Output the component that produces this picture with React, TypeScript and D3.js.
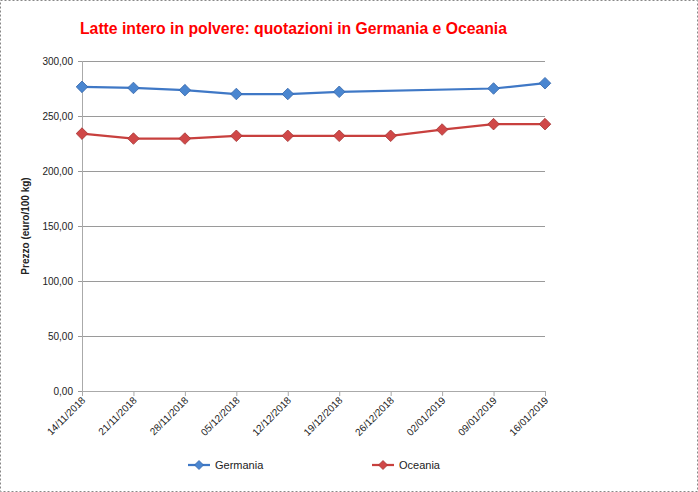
import React from "react";
import * as d3 from "d3";

const categories = [
  "14/11/2018", "21/11/2018", "28/11/2018", "05/12/2018", "12/12/2018",
  "19/12/2018", "26/12/2018", "02/01/2019", "09/01/2019", "16/01/2019",
];
const germania: (number | null)[] = [276.5, 275.5, 273.5, 270, 270, 272, null, null, 275, 279.8];
const oceania: (number | null)[] = [234, 229.5, 229.5, 232, 232, 232, 232, 237.7, 242.6, 242.6];
const yTicks = [0, 50, 100, 150, 200, 250, 300];
const title = "Latte intero in polvere: quotazioni in Germania e Oceania";
const yLabel = "Prezzo (euro/100 kg)";

const W = 698, H = 492;
const left = 82, right = 545, top = 61, bottom = 391;

const fmt = (v: number) => v.toFixed(2).replace(".", ",");

export default function App() {
  const x = d3.scalePoint<string>().domain(categories).range([left, right]);
  const y = d3.scaleLinear().domain([0, 300]).range([bottom, top]);

  const series = [
    { name: "Germania", data: germania, line: "#3F78C6", fill: "#4A86D0", stroke: "#3566AA" },
    { name: "Oceania", data: oceania, line: "#C8403E", fill: "#D04848", stroke: "#A53533" },
  ];

  const diamond = (cx: number, cy: number, r: number) =>
    `M${cx},${cy - r}L${cx + r},${cy}L${cx},${cy + r}L${cx - r},${cy}Z`;

  const legendPos = [188, 372];

  return (
    <>
      <style>{`body{margin:0}`}</style>
      <svg width={W} height={H} style={{ display: "block", fontFamily: "'Liberation Sans', Arial, sans-serif" }}>
        <rect x={0} y={0} width={W} height={H} fill="#fff" />
        <rect x={0.5} y={0.5} width={W - 1} height={H - 1} fill="none" stroke="#888" strokeDasharray="2,2" />
        <text x={80} y={34} fill="#FF0000" fontWeight="bold" fontSize={16} textLength={427} lengthAdjust="spacingAndGlyphs">
          {title}
        </text>
        {yTicks.map((t) => (
          <g key={t}>
            {t > 0 && <line x1={left} x2={right} y1={y(t) + 0.5} y2={y(t) + 0.5} stroke="#9a9a9a" />}
            <line x1={left - 4} x2={left} y1={y(t) + 0.5} y2={y(t) + 0.5} stroke="#9a9a9a" />
            <text x={73} y={y(t) + 3.5} textAnchor="end" fontSize={10} fill="#222">{fmt(t)}</text>
          </g>
        ))}
        <line x1={left + 0.5} x2={left + 0.5} y1={top} y2={bottom} stroke="#aaa" />
        <line x1={left} x2={right} y1={bottom + 0.5} y2={bottom + 0.5} stroke="#aaa" />
        {categories.map((c) => (
          <g key={c}>
            <line x1={x(c)! + 0.5} x2={x(c)! + 0.5} y1={bottom} y2={bottom + 5} stroke="#aaa" />
            <text
              transform={`translate(${x(c)! + 4},${bottom + 10}) rotate(-45)`}
              textAnchor="end"
              fontSize={10}
              fill="#222"
            >
              {c}
            </text>
          </g>
        ))}
        <text
          transform={`translate(29,${(top + bottom) / 2}) rotate(-90)`}
          textAnchor="middle"
          fontSize={10}
          fontWeight="bold"
          fill="#222"
        >
          {yLabel}
        </text>
        {series.map((s) => {
          const pts = categories
            .map((c, i) => ({ c, v: s.data[i] }))
            .filter((p) => p.v !== null) as { c: string; v: number }[];
          const path = d3.line<{ c: string; v: number }>().x((p) => x(p.c)!).y((p) => y(p.v))(pts) || "";
          return (
            <g key={s.name}>
              <path d={path} fill="none" stroke={s.line} strokeWidth={2.25} />
              {pts.map((p) => (
                <path key={p.c} d={diamond(x(p.c)!, y(p.v), 5.8)} fill={s.fill} stroke={s.stroke} strokeWidth={0.8} />
              ))}
            </g>
          );
        })}
        {series.map((s, i) => (
          <g key={s.name}>
            <line x1={legendPos[i]} x2={legendPos[i] + 22} y1={465} y2={465} stroke={s.line} strokeWidth={2.25} />
            <path d={diamond(legendPos[i] + 11, 465, 4.5)} fill={s.fill} stroke={s.stroke} strokeWidth={0.8} />
            <text x={legendPos[i] + 27} y={469} fontSize={11} fill="#222">{s.name}</text>
          </g>
        ))}
      </svg>
    </>
  );
}
